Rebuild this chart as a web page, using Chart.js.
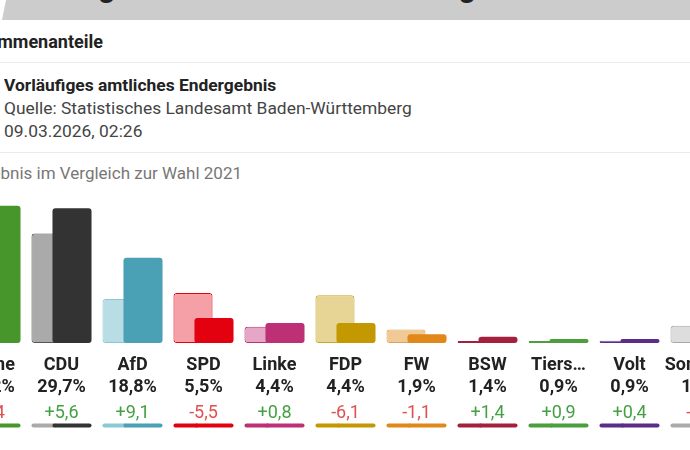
<!DOCTYPE html>
<html lang="de">
<head>
<meta charset="utf-8">
<script src="https://cdn.jsdelivr.net/npm/chart.js@4.4.1/dist/chart.umd.min.js"></script>
<style>
  html, body { margin:0; padding:0; background:#fff; }
  body { width:690px; height:450px; position:relative; overflow:hidden; font-family:Roboto, "Noto Sans", sans-serif; color:#222; }
  #banner { position:absolute; left:0; top:0; width:690px; height:20px; background:#cccccc; overflow:hidden;
            clip-path: polygon(6px 0, 100% 0, 100% 100%, 2px 100%); }
  #banner span { position:absolute; left:6px; top:-28px; font:700 30px/30px Roboto, sans-serif; color:#222; white-space:nowrap; }
  .t { position:absolute; white-space:nowrap; }
  #title { right:587px; top:31px; font:700 18px/22px Roboto, sans-serif; color:#222; }
  .sep { position:absolute; left:0; width:690px; height:1px; background:#ebebeb; }
  #info { left:4px; top:74px; font:400 17.4px/23px Roboto, sans-serif; color:#444; }
  #info b { color:#222; font-weight:700; }
  #sub { right:448px; top:162px; font:400 17px/22px Roboto, sans-serif; color:#777; }
  #wrap { position:absolute; left:-45px; top:180px; width:781px; height:270px; }
</style>
</head>
<body>
<div id="banner"><span>Landtagswahl Baden-Württemberg</span></div>
<div class="t" id="title">Stimmenanteile</div>
<div class="sep" style="top:62px"></div>
<div class="t" id="info"><b>Vorläufiges amtliches Endergebnis</b><br>Quelle: Statistisches Landesamt Baden-Württemberg<br>09.03.2026, 02:26</div>
<div class="sep" style="top:152px"></div>
<div class="t" id="sub">Ergebnis im Vergleich zur Wahl 2021</div>
<div id="wrap"><canvas id="c"></canvas></div>
<script>
// ---- data ----
const parties = ["Grüne", "CDU", "AfD", "SPD", "Linke", "FDP", "FW", "BSW", "Tiers…", "Volt", "Sonstige"];
const result2026 = [30.2, 29.7, 18.8, 5.5, 4.4, 4.4, 1.9, 1.4, 0.9, 0.9, 1.9];
const result2021 = [32.6, 24.1, 9.7, 11.0, 3.6, 10.5, 3.0, 0.0, 0.0, 0.5, 3.8];
const changes    = [-2.4, 5.6, 9.1, -5.5, 0.8, -6.1, -1.1, 1.4, 0.9, 0.4, -1.9];

// ---- styles ----
const darkColors  = ["#46962b", "#333333", "#4aa0b4", "#e3000f", "#be3075", "#c49800", "#e0881a", "#a3213f", "#4c9e3e", "#5a2d88", "#9a9a9a"];
const lightColors = ["#b4d79c", "#aaaaaa", "#b9dde5", "#f4a0a6", "#e6a7c6", "#e7d595", "#f0c994", "#d38ea0", "#a9d3a0", "#b9a5d2", "#dddddd"];
const lightBorders= ["#46962b", "#555555", "#8cc5d3", "#e3000f", "#be3075", "#c9a52a", "#dca35a", "#a3213f", "#4c9e3e", "#5a2d88", "#a8a8a8"];
const lineLight   = ["#46962b", "#aaaaaa", "#8cc8d6", "#e3000f", "#be3075", "#c49800", "#e0881a", "#a3213f", "#4c9e3e", "#5a2d88", "#aaaaaa"];

const fmt = v => v.toFixed(1).replace('.', ',');
const pctLabels = result2026.map(v => fmt(v) + '%');
const changeLabels = changes.map(v => (v > 0 ? '+' : v < 0 ? '-' : '') + fmt(Math.abs(v)));

const LINE = 22;   // tick label line height (px)

const drawOrder = {
  id: 'drawOrder',
  beforeDatasetDraw(chart, args) { if (args.index === 1) return false; },
  afterDatasetsDraw(chart) {
    const ctx = chart.ctx;
    ctx.save();
    chart.getDatasetMeta(1).controller.draw();
    ctx.restore();
  }
};

const underlines = {
  id: 'underlines',
  afterDraw(chart) {
    const ctx = chart.ctx;
    const y = chart.scales.x2.bottom + 1.5;
    const m0 = chart.getDatasetMeta(0).data, m1 = chart.getDatasetMeta(1).data;
    ctx.save();
    ctx.lineWidth = 4; ctx.lineCap = 'round';
    parties.forEach((p, i) => {
      const a = m0[i].getProps(['x', 'width'], true), b = m1[i].getProps(['x', 'width'], true);
      const left = a.x - a.width / 2 + 2, mid = b.x - b.width / 2, right = b.x + b.width / 2 - 2;
      ctx.strokeStyle = lineLight[i];
      ctx.beginPath(); ctx.moveTo(left, y); ctx.lineTo(mid + 2, y); ctx.stroke();
      ctx.strokeStyle = darkColors[i];
      ctx.beginPath(); ctx.moveTo(mid + 2, y); ctx.lineTo(right, y); ctx.stroke();
    });
    ctx.restore();
  }
};

function fixFit(h) {
  return scale => { scale.height = h; scale.paddingLeft = 0; scale.paddingRight = 0; scale.paddingTop = 0; scale.paddingBottom = 0; };
}

new Chart(document.getElementById('c'), {
  type: 'bar',
  data: {
    labels: parties,
    datasets: [
      { label: '2021', data: result2021, backgroundColor: lightColors, borderColor: lightBorders,
        borderWidth: 1, borderRadius: 3, borderSkipped: false, minBarLength: 2,
        categoryPercentage: 0.5915, barPercentage: 1.86 },
      { label: '2026', data: result2026, backgroundColor: darkColors, borderWidth: 0,
        borderRadius: 3, borderSkipped: false,
        categoryPercentage: 0.5915, barPercentage: 1.86 }
    ]
  },
  options: {
    responsive: true, maintainAspectRatio: false, animation: false,
    layout: { padding: { top: 8.6, bottom: 26, left: 0, right: 0 }, autoPadding: false },
    plugins: { legend: { display: false }, tooltip: { enabled: false } },
    scales: {
      y: { display: false, min: 0, max: 34 },
      x: {
        position: 'bottom', weight: 0,
        grid: { display: false, drawTicks: false }, border: { display: false },
        afterFit: fixFit(11 + 2 * LINE),
        ticks: {
          autoSkip: false, maxRotation: 0, minRotation: 0, padding: 11, color: '#222',
          font: { family: 'Roboto', size: 18, weight: 'bold', lineHeight: LINE + 'px' },
          callback: (v, i) => [parties[i], pctLabels[i]]
        }
      },
      x2: {
        type: 'category', labels: changeLabels, position: 'bottom', weight: 1, offset: true,
        grid: { display: false, drawTicks: false }, border: { display: false },
        afterFit: fixFit(4 + LINE),
        ticks: {
          autoSkip: false, maxRotation: 0, minRotation: 0, padding: 4,
          color: ctx => changes[ctx.index] >= 0 ? '#43a043' : '#df5050',
          font: { family: 'Roboto', size: 18, weight: 'normal', lineHeight: LINE + 'px' }
        }
      }
    }
  },
  plugins: [drawOrder, underlines]
});
</script>
</body>
</html>
